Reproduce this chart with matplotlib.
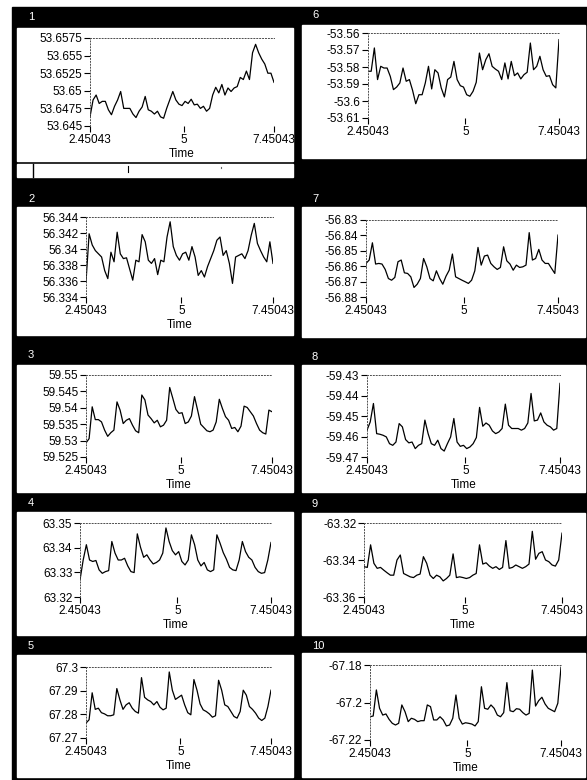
import matplotlib
matplotlib.use("Agg")
import matplotlib.pyplot as plt
from matplotlib.lines import Line2D
from matplotlib.patches import Rectangle
from matplotlib.ticker import FormatStrFormatter
import numpy as np

plt.rcParams['font.family'] = ['Liberation Sans', 'DejaVu Sans']

W, H = 587, 780

# sample times (uniform sampling over the window)
time = np.linspace(2.45043, 7.45043, 61)
x_ticks = [2.45043, 5, 7.45043]
x_tick_labels = ["2.45043", "5", "7.45043"]

s1 = [53.6463, 53.6487, 53.6494, 53.6482, 53.6485, 53.6485, 53.6473, 53.6466, 53.6478, 53.6487,
      53.6499, 53.6475, 53.6475, 53.6475, 53.6467, 53.6462, 53.6471, 53.6477, 53.6492, 53.6473,
      53.6471, 53.6467, 53.6471, 53.6463, 53.6461, 53.6475, 53.6487, 53.6499, 53.6487, 53.6481,
      53.6479, 53.6485, 53.6482, 53.6488, 53.6480, 53.6481, 53.6475, 53.6478, 53.6471, 53.6475,
      53.6494, 53.6505, 53.6497, 53.6509, 53.6494, 53.6504, 53.6499, 53.6504, 53.6506, 53.6519,
      53.6516, 53.6528, 53.6516, 53.6554, 53.6566, 53.6554, 53.6545, 53.6538, 53.6525, 53.6525,
      53.6512]
s2 = [56.3359, 56.3419, 56.3405, 56.3398, 56.3394, 56.3390, 56.3373, 56.3363, 56.3396, 56.3384,
      56.3421, 56.3394, 56.3388, 56.3389, 56.3375, 56.3361, 56.3386, 56.3384, 56.3418, 56.3409,
      56.3386, 56.3382, 56.3388, 56.3368, 56.3386, 56.3384, 56.3415, 56.3434, 56.3403, 56.3392,
      56.3386, 56.3394, 56.3396, 56.3386, 56.3403, 56.3390, 56.3367, 56.3373, 56.3365, 56.3378,
      56.3388, 56.3398, 56.3411, 56.3415, 56.3392, 56.3398, 56.3382, 56.3357, 56.3390, 56.3392,
      56.3394, 56.3388, 56.3398, 56.3417, 56.3432, 56.3407, 56.3398, 56.3390, 56.3384, 56.3409,
      56.3382]
s3 = [59.5293, 59.5306, 59.5403, 59.5364, 59.5364, 59.5357, 59.5332, 59.5313, 59.5324, 59.5332,
      59.5418, 59.5393, 59.5352, 59.5362, 59.5367, 59.5347, 59.5330, 59.5324, 59.5439, 59.5424,
      59.5378, 59.5367, 59.5354, 59.5362, 59.5342, 59.5347, 59.5362, 59.5462, 59.5429, 59.5395,
      59.5383, 59.5385, 59.5352, 59.5357, 59.5375, 59.5434, 59.5393, 59.5350, 59.5340, 59.5330,
      59.5327, 59.5332, 59.5357, 59.5426, 59.5398, 59.5373, 59.5362, 59.5337, 59.5340, 59.5327,
      59.5344, 59.5405, 59.5401, 59.5388, 59.5375, 59.5352, 59.5332, 59.5324, 59.5320, 59.5393,
      59.5388]
s4 = [63.3269, 63.3350, 63.3412, 63.3350, 63.3344, 63.3348, 63.3310, 63.3296, 63.3303, 63.3307,
      63.3425, 63.3378, 63.3350, 63.3350, 63.3357, 63.3326, 63.3303, 63.3299, 63.3456, 63.3402,
      63.3361, 63.3371, 63.3350, 63.3334, 63.3340, 63.3350, 63.3378, 63.3480, 63.3425, 63.3388,
      63.3371, 63.3384, 63.3344, 63.3330, 63.3350, 63.3452, 63.3412, 63.3350, 63.3326, 63.3340,
      63.3310, 63.3303, 63.3310, 63.3452, 63.3418, 63.3380, 63.3353, 63.3320, 63.3310, 63.3307,
      63.3350, 63.3425, 63.3384, 63.3361, 63.3350, 63.3320, 63.3303, 63.3296, 63.3299, 63.3350,
      63.3421]
s5 = [67.2763, 67.2777, 67.2891, 67.2821, 67.2826, 67.2807, 67.2802, 67.2794, 67.2794, 67.2798,
      67.2909, 67.2861, 67.2821, 67.2840, 67.2849, 67.2826, 67.2812, 67.2805, 67.2955, 67.2872,
      67.2861, 67.2854, 67.2840, 67.2854, 67.2830, 67.2819, 67.2826, 67.2979, 67.2902, 67.2863,
      67.2872, 67.2881, 67.2840, 67.2807, 67.2798, 67.2947, 67.2902, 67.2844, 67.2819, 67.2812,
      67.2802, 67.2788, 67.2794, 67.2944, 67.2902, 67.2840, 67.2833, 67.2812, 67.2791, 67.2784,
      67.2812, 67.2902, 67.2881, 67.2833, 67.2821, 67.2805, 67.2784, 67.2774, 67.2784, 67.2833,
      67.2902]
s6 = [-53.5825, -53.5825, -53.5688, -53.5874, -53.5796, -53.5806, -53.5806, -53.5855, -53.5933, -53.5918,
      -53.5894, -53.5806, -53.5884, -53.5874, -53.5937, -53.6016, -53.5963, -53.5963, -53.5894, -53.5796,
      -53.5929, -53.5816, -53.5835, -53.5923, -53.5976, -53.5874, -53.5859, -53.5767, -53.5874, -53.5910,
      -53.5918, -53.5963, -53.5972, -53.5943, -53.5890, -53.5718, -53.5816, -53.5757, -53.5722, -53.5796,
      -53.5812, -53.5825, -53.5874, -53.5776, -53.5870, -53.5767, -53.5851, -53.5835, -53.5870, -53.5845,
      -53.5831, -53.5659, -53.5816, -53.5796, -53.5737, -53.5816, -53.5855, -53.5851, -53.5904, -53.5923,
      -53.5639]
s7 = [-56.8582, -56.8560, -56.8448, -56.8586, -56.8582, -56.8586, -56.8621, -56.8680, -56.8691, -56.8673,
      -56.8571, -56.8560, -56.8643, -56.8647, -56.8669, -56.8738, -56.8717, -56.8680, -56.8550, -56.8604,
      -56.8680, -56.8695, -56.8630, -56.8680, -56.8717, -56.8665, -56.8626, -56.8521, -56.8669, -56.8680,
      -56.8691, -56.8701, -56.8712, -56.8691, -56.8630, -56.8478, -56.8593, -56.8534, -56.8528, -56.8582,
      -56.8604, -56.8621, -56.8608, -56.8474, -56.8565, -56.8586, -56.8626, -56.8593, -56.8608, -56.8604,
      -56.8593, -56.8382, -56.8560, -56.8550, -56.8491, -56.8560, -56.8582, -56.8582, -56.8615, -56.8647,
      -56.8398]
s8 = [-59.4569, -59.4529, -59.4439, -59.4586, -59.4589, -59.4594, -59.4602, -59.4635, -59.4643, -59.4627,
      -59.4537, -59.4553, -59.4615, -59.4631, -59.4627, -59.4659, -59.4643, -59.4635, -59.4520, -59.4586,
      -59.4635, -59.4643, -59.4618, -59.4659, -59.4671, -59.4635, -59.4602, -59.4512, -59.4627, -59.4648,
      -59.4643, -59.4659, -59.4651, -59.4635, -59.4605, -59.4458, -59.4550, -59.4534, -59.4545, -59.4573,
      -59.4586, -59.4578, -59.4561, -59.4442, -59.4545, -59.4561, -59.4561, -59.4561, -59.4569, -59.4561,
      -59.4534, -59.4390, -59.4524, -59.4520, -59.4485, -59.4529, -59.4545, -59.4553, -59.4569, -59.4561,
      -59.4341]
s9 = [-63.3436, -63.3440, -63.3318, -63.3418, -63.3445, -63.3440, -63.3455, -63.3469, -63.3482, -63.3482,
      -63.3400, -63.3373, -63.3473, -63.3482, -63.3491, -63.3495, -63.3482, -63.3476, -63.3382, -63.3418,
      -63.3482, -63.3500, -63.3482, -63.3491, -63.3513, -63.3500, -63.3482, -63.3367, -63.3495, -63.3491,
      -63.3495, -63.3500, -63.3495, -63.3482, -63.3473, -63.3318, -63.3422, -63.3415, -63.3433, -63.3445,
      -63.3436, -63.3451, -63.3440, -63.3295, -63.3445, -63.3440, -63.3427, -63.3436, -63.3445, -63.3436,
      -63.3422, -63.3245, -63.3396, -63.3364, -63.3355, -63.3400, -63.3409, -63.3427, -63.3433, -63.3400,
      -63.3255]
s10 = [-67.2076, -67.2072, -67.1933, -67.2031, -67.2067, -67.2061, -67.2090, -67.2111, -67.2120, -67.2111,
       -67.2013, -67.2049, -67.2102, -67.2084, -67.2090, -67.2102, -67.2097, -67.2097, -67.2013, -67.2022,
       -67.2093, -67.2093, -67.2076, -67.2093, -67.2125, -67.2120, -67.2084, -67.1960, -67.2084, -67.2115,
       -67.2108, -67.2111, -67.2115, -67.2125, -67.2102, -67.1916, -67.2031, -67.2036, -67.2013, -67.2031,
       -67.2067, -67.2076, -67.2054, -67.1894, -67.2044, -67.2049, -67.2033, -67.2036, -67.2054, -67.2067,
       -67.2058, -67.1827, -67.2019, -67.1990, -67.1972, -67.2008, -67.2031, -67.2040, -67.2049, -67.2004,
       -67.1812]

yt1 = [53.645, 53.6475, 53.65, 53.6525, 53.655, 53.6575]
yt2 = [56.334, 56.336, 56.338, 56.34, 56.342, 56.344]
yt3 = [59.525, 59.53, 59.535, 59.54, 59.545, 59.55]
yt4 = [63.32, 63.33, 63.34, 63.35]
yt5 = [67.27, 67.28, 67.29, 67.3]
yt6 = [-53.61, -53.6, -53.59, -53.58, -53.57, -53.56]
yt7 = [-56.88, -56.87, -56.86, -56.85, -56.84, -56.83]
yt8 = [-59.47, -59.46, -59.45, -59.44, -59.43]
yt9 = [-63.36, -63.34, -63.32]
yt10 = [-67.22, -67.2, -67.18]

panel_names = ["1", "2", "3", "4", "5", "6", "7", "8", "9", "10"]
series = [s1, s2, s3, s4, s5, s6, s7, s8, s9, s10]
yticks = [yt1, yt2, yt3, yt4, yt5, yt6, yt7, yt8, yt9, yt10]
show_time = [True, True, True, True, True, False, False, True, True, True]

# layout in pixels: axes (x0, x1, ytop, ybottom), white panel (x0, x1, y0, y1), label pos
axes_px = [(90, 274, 38, 126), (86, 273, 217, 297), (86, 272, 375, 457),
           (80, 271, 523, 597), (86, 271, 667, 738),
           (368, 559, 33, 118), (366, 558, 220, 297), (367, 560, 375, 457),
           (364, 562, 523, 597), (370, 561, 665, 740)]
panel_px = [(17, 293, 28, 161), (17, 293, 207, 335), (17, 293, 365, 492),
            (17, 293, 512, 635), (17, 293, 655, 777),
            (302, 585, 25, 158), (302, 585, 207, 337), (302, 585, 365, 492),
            (302, 585, 513, 635), (302, 585, 653, 777)]
label_px = [(28, 17), (28, 199), (28, 355), (28, 503), (28, 646),
            (312, 15), (312, 199), (312, 357), (312, 504), (312, 646)]

fig = plt.figure(figsize=(W / 100, H / 100), dpi=100, facecolor="white")


def px_rect(x0, x1, y0, y1):
    return (x0 / W, 1 - y1 / H), (x1 - x0) / W, (y1 - y0) / H


xy, w, h = px_rect(12, 587, 7, 780)
fig.patches.append(Rectangle(xy, w, h, transform=fig.transFigure, color="black", zorder=-3))
for p in panel_px:
    xy, w, h = px_rect(*p)
    fig.patches.append(Rectangle(xy, w, h, transform=fig.transFigure, color="white", zorder=-2))

# the little scroll strip under panel 1
xy, w, h = px_rect(17, 293, 164, 177)
fig.patches.append(Rectangle(xy, w, h, transform=fig.transFigure, color="white", zorder=-2))
fig.add_artist(Line2D([33 / W, 33 / W], [1 - 164 / H, 1 - 177 / H], color="k", lw=1))
fig.add_artist(Line2D([128 / W, 128 / W], [1 - 166 / H, 1 - 172 / H], color="k", lw=0.8))
fig.add_artist(Line2D([221 / W, 221 / W], [1 - 167 / H, 1 - 168 / H], color="0.4", lw=0.8))

for name, (lx, ly) in zip(panel_names, label_px):
    fig.text(lx / W, 1 - ly / H, name, color="white", fontsize=8, va="center", ha="left")

for s, yt, pos, tlab in zip(series, yticks, axes_px, show_time):
    x0, x1, yt_px, yb_px = pos
    ax = fig.add_axes([x0 / W, 1 - yb_px / H, (x1 - x0) / W, (yb_px - yt_px) / H])
    ax.set_zorder(2)
    ax.set_facecolor("none")
    ax.plot(time, s, color="black", lw=0.9)
    ax.set_xlim(2.45043, 7.45043)
    ax.set_ylim(yt[0], yt[-1])
    ax.set_yticks(yt)
    ax.yaxis.set_major_formatter(FormatStrFormatter("%g"))
    ax.set_xticks(x_ticks, x_tick_labels)
    ax.spines["right"].set_visible(False)
    ax.spines["bottom"].set_visible(False)
    for sp in ("top", "left"):
        ax.spines[sp].set_linestyle((0, (1, 2)))
        ax.spines[sp].set_linewidth(0.7)
        ax.spines[sp].set_color("0.3")
    ax.tick_params(axis="both", length=4, width=0.8, labelsize=8.5, pad=1.5, colors="black")
    if tlab:
        ax.set_xlabel("Time", fontsize=8.5, labelpad=2)

fig.savefig("out.png", dpi=100, facecolor=fig.get_facecolor())
